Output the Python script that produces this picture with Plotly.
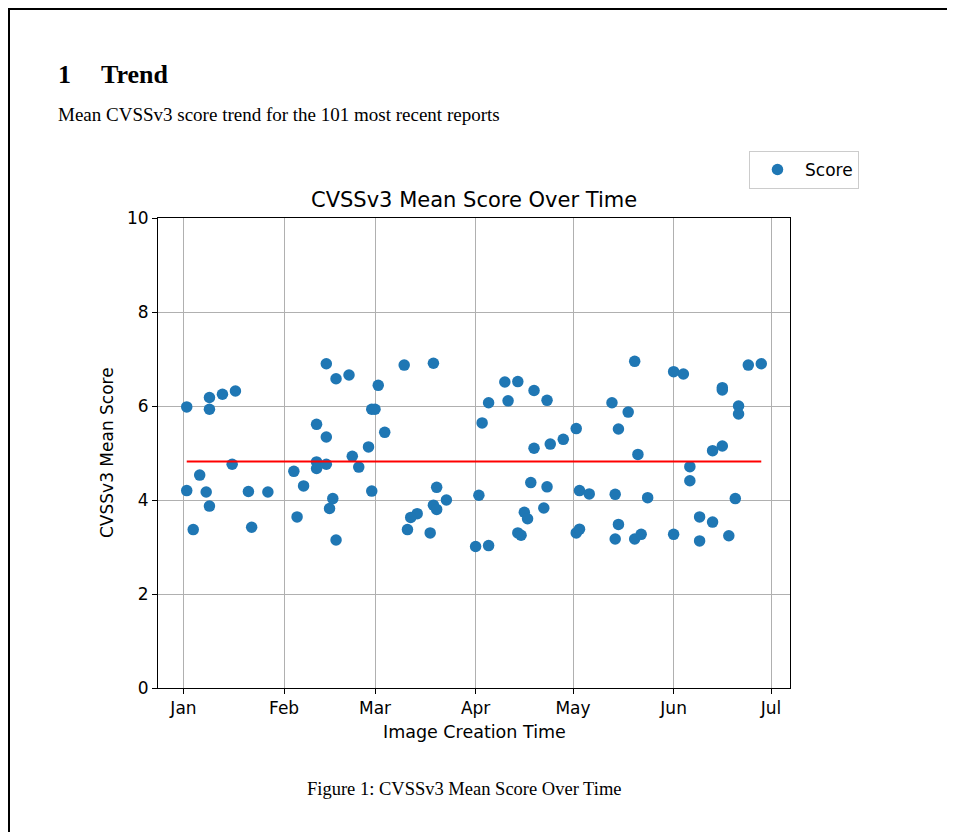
import plotly.graph_objects as go

# ---- data ----
report_dates = [
    "2023-01-02", "2023-01-09", "2023-01-09", "2023-01-13", "2023-01-17",
    "2023-01-16", "2023-01-06", "2023-01-02", "2023-01-08", "2023-01-09",
    "2023-01-04", "2023-01-21", "2023-01-27", "2023-01-22", "2023-02-04",
    "2023-02-07", "2023-02-05", "2023-02-11", "2023-02-11", "2023-02-11",
    "2023-02-14", "2023-02-17", "2023-02-21", "2023-03-02", "2023-02-28",
    "2023-03-01", "2023-02-14", "2023-03-04", "2023-02-27", "2023-02-22",
    "2023-02-14", "2023-02-24", "2023-02-16", "2023-02-15", "2023-02-28",
    "2023-02-17", "2023-03-10", "2023-03-19", "2023-03-20", "2023-03-23",
    "2023-03-19", "2023-03-20", "2023-03-14", "2023-03-12", "2023-03-11",
    "2023-03-18", "2023-04-10", "2023-04-14", "2023-04-05", "2023-04-11",
    "2023-04-19", "2023-04-23", "2023-04-03", "2023-04-19", "2023-04-24",
    "2023-04-28", "2023-05-02", "2023-05-13", "2023-05-15", "2023-04-18",
    "2023-04-23", "2023-04-02", "2023-05-03", "2023-05-06", "2023-05-14",
    "2023-04-16", "2023-04-17", "2023-04-22", "2023-04-14", "2023-04-15",
    "2023-05-02", "2023-05-03", "2023-04-01", "2023-04-05", "2023-05-14",
    "2023-05-15", "2023-05-20", "2023-06-01", "2023-06-04", "2023-06-24",
    "2023-06-28", "2023-06-16", "2023-06-16", "2023-05-18", "2023-06-21",
    "2023-06-21", "2023-05-21", "2023-06-13", "2023-06-16", "2023-06-06",
    "2023-06-06", "2023-05-24", "2023-06-20", "2023-05-20", "2023-05-22",
    "2023-06-01", "2023-06-09", "2023-06-13", "2023-06-09", "2023-06-18",
]
mean_scores = [
    5.98, 6.18, 5.93, 6.25, 6.32, 4.76, 4.53, 4.20, 4.17, 3.87,
    3.37, 4.18, 4.17, 3.42, 4.61, 4.30, 3.64, 5.61, 4.81, 4.67,
    6.90, 6.58, 6.66, 6.44, 5.93, 5.93, 5.34, 5.44, 5.13, 4.93,
    4.76, 4.70, 4.03, 3.82, 4.19, 3.15, 6.87, 6.91, 4.27, 4.00,
    3.89, 3.80, 3.71, 3.63, 3.37, 3.30, 6.51, 6.52, 6.07, 6.11,
    6.33, 6.12, 5.64, 5.10, 5.19, 5.29, 5.52, 6.07, 5.51, 4.37,
    4.28, 4.10, 4.20, 4.13, 4.12, 3.74, 3.60, 3.83, 3.30, 3.25,
    3.30, 3.38, 3.01, 3.03, 3.17, 3.48, 6.95, 6.73, 6.68, 6.87,
    6.90, 6.39, 6.34, 5.87, 6.00, 5.83, 4.97, 5.05, 5.15, 4.71,
    4.41, 4.05, 4.03, 3.17, 3.27, 3.27, 3.64, 3.53, 3.13, 3.24,
]
overall_mean = 4.82
y_ticks = [0, 2, 4, 6, 8, 10]

# ---- page geometry (screen pixels; page body has an 8px offset) ----
OFF = 8
W, H = 955 - OFF, 832 - OFF
PL, PR, PT, PB = 158 - OFF, 790 - OFF, 218 - OFF, 688 - OFF
pw, ph = PR - PL, PB - PT


def px(x):
    return (x - OFF - PL) / pw


def py(y):
    return (PB - (y - OFF)) / ph


AX_FONT = "DejaVu Sans, sans-serif"
SERIF = "Liberation Serif, Times New Roman, serif"

fig = go.Figure()
fig.add_trace(go.Scatter(
    x=report_dates, y=mean_scores, mode="markers", name="Score",
    marker=dict(color="#1f77b4", size=11.5, line=dict(width=0)),
))
fig.add_trace(go.Scatter(
    x=[min(report_dates), max(report_dates)], y=[overall_mean, overall_mean],
    mode="lines", line=dict(color="red", width=2), showlegend=False,
    hoverinfo="skip",
))

axis_common = dict(
    showline=True, linecolor="black", linewidth=1, mirror=True,
    ticks="outside", ticklen=5, tickcolor="black", tickwidth=1,
    showgrid=True, gridcolor="#b0b0b0", gridwidth=1, zeroline=False,
    tickfont=dict(family=AX_FONT, size=17, color="black"),
)

fig.update_layout(
    width=W, height=H,
    margin=dict(l=PL, r=W - PR, t=PT, b=H - PB, autoexpand=False),
    paper_bgcolor="white", plot_bgcolor="white",
    font=dict(family=AX_FONT, color="black"),
    xaxis=dict(
        type="date", range=["2022-12-24 03:36", "2023-07-06 20:24"],
        tick0="2023-01-01", dtick="M1", tickformat="%b", **axis_common,
    ),
    yaxis=dict(range=[0, 10], tickvals=y_ticks, **axis_common),
    legend=dict(
        x=px(749), y=py(151), xanchor="left", yanchor="top",
        bordercolor="#cccccc", borderwidth=1, bgcolor="white",
        itemwidth=45,
        font=dict(family=AX_FONT, size=17, color="black"),
    ),
    showlegend=True,
)

annotations = [
    dict(text="CVSSv3 Mean Score Over Time", x=0.5, y=py(200), xanchor="center",
         yanchor="middle", font=dict(family=AX_FONT, size=21)),
    dict(text="Image Creation Time", x=0.5, y=py(732), xanchor="center",
         yanchor="middle", font=dict(family=AX_FONT, size=17.5)),
    dict(text="CVSSv3 Mean Score", x=px(107), y=0.5, xanchor="center",
         yanchor="middle", textangle=-90, font=dict(family=AX_FONT, size=17)),
    dict(text="<b>1</b>", x=px(56), y=py(74), xanchor="left", yanchor="middle",
         font=dict(family=SERIF, size=26)),
    dict(text="<b>Trend</b>", x=px(99), y=py(74), xanchor="left", yanchor="middle",
         font=dict(family=SERIF, size=26)),
    dict(text="Mean CVSSv3 score trend for the 101 most recent reports",
         x=px(56), y=py(115), xanchor="left", yanchor="middle",
         font=dict(family=SERIF, size=19)),
    dict(text="Figure 1: CVSSv3 Mean Score Over Time", x=px(464), y=py(789),
         xanchor="center", yanchor="middle", font=dict(family=SERIF, size=18.5)),
]
for a in annotations:
    a.update(xref="paper", yref="paper", showarrow=False)
fig.update_layout(annotations=annotations)

fig.add_shape(type="line", xref="paper", yref="paper",
              x0=px(9), x1=px(9), y0=py(9), y1=py(840),
              line=dict(color="black", width=2))
fig.add_shape(type="line", xref="paper", yref="paper",
              x0=px(8), x1=px(960), y0=py(9), y1=py(9),
              line=dict(color="black", width=2))

fig.write_html("out.html")
